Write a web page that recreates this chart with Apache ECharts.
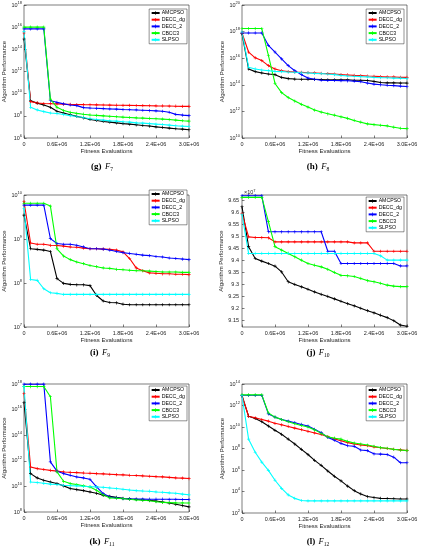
<!DOCTYPE html>
<html><head><meta charset="utf-8">
<script src="https://cdn.jsdelivr.net/npm/echarts@6/dist/echarts.min.js"></script>
<style>html,body{margin:0;padding:0;background:#fff}#c{width:421px;height:550px}</style>
</head><body><div id="c"></div>
<script>
// ---------------- DATA ----------------
const xEvals = [0,120000,240000,360000,480000,600000,720000,840000,960000,1080000,1200000,1320000,1440000,1560000,1680000,1800000,1920000,2040000,2160000,2280000,2400000,2520000,2640000,2760000,2880000,3000000];
const xTickLabels = ['0','0.6E+06','1.2E+06','1.8E+06','2.4E+06','3.0E+06'];
const seriesNames = ['AMCPSO','DECC_dg','DECC_2','CBCC3','SLPSO'];

// (g) F7
const g_AMCPSO = [8.5e14,2.3e9,1.4e9,9.5e8,5.9e8,2.6e8,1.8e8,1.26e8,8.9e7,6.6e7,4.7e7,3.8e7,3.1e7,2.7e7,2.3e7,2.0e7,1.8e7,1.55e7,1.35e7,1.2e7,1.0e7,8.9e6,7.8e6,6.8e6,6.3e6,5.5e6];
const g_DECC_dg = [3.0e15,1.9e9,1.45e9,1.3e9,1.25e9,1.2e9,1.12e9,1.07e9,1.05e9,1.02e9,1.0e9,9.8e8,9.5e8,9.3e8,9.1e8,8.9e8,8.7e8,8.5e8,8.3e8,8.1e8,7.9e8,7.8e8,7.6e8,7.4e8,7.2e8,7.1e8];
const g_DECC_2 = [7.0e15,7.0e15,7.0e15,7.0e15,2.3e9,1.65e9,1.2e9,9.5e8,8.3e8,5.5e8,5.1e8,4.8e8,4.5e8,4.2e8,4.0e8,3.7e8,3.55e8,3.4e8,3.2e8,3.0e8,2.8e8,2.6e8,2.1e8,1.35e8,1.17e8,1.05e8];
const g_CBCC3 = [1.0e16,1.0e16,1.0e16,1.0e16,3.2e9,5.9e8,3.0e8,2.1e8,1.66e8,1.4e8,1.2e8,1.1e8,1.0e8,9.1e7,8.3e7,7.6e7,7.1e7,6.6e7,6.2e7,5.8e7,5.4e7,5.0e7,4.6e7,4.1e7,3.6e7,3.3e7];
const g_SLPSO = [4.2e15,5.9e8,3.4e8,2.4e8,1.8e8,1.6e8,1.3e8,1.05e8,8.7e7,7.1e7,5.4e7,4.7e7,4.1e7,3.5e7,3.3e7,2.9e7,2.7e7,2.3e7,2.2e7,2.0e7,1.8e7,1.66e7,1.45e7,1.26e7,1.17e7,1.1e7];

// (h) F8
const h_AMCPSO = [7.1e17,1.55e15,9.8e14,7.8e14,6.5e14,5.8e14,3.6e14,2.9e14,2.7e14,2.6e14,2.6e14,2.55e14,2.5e14,2.4e14,2.4e14,2.4e14,2.4e14,2.2e14,2.2e14,2.1e14,1.8e14,1.5e14,1.4e14,1.4e14,1.35e14,1.35e14];
const h_DECC_dg = [7.9e17,2.9e16,1.07e16,6.6e15,2.75e15,1.55e15,1.15e15,9.8e14,9.1e14,8.7e14,8.1e14,7.8e14,7.2e14,6.9e14,6.5e14,5.8e14,5.5e14,5.1e14,4.9e14,4.6e14,4.4e14,4.1e14,3.9e14,3.9e14,3.6e14,3.6e14];
const h_DECC_2 = [7.9e17,7.9e17,7.9e17,7.9e17,9.1e16,2.9e16,8.9e15,2.75e15,1.15e15,5.8e14,3.2e14,2.6e14,2.2e14,2.1e14,2.1e14,2.05e14,2.0e14,1.9e14,1.7e14,1.35e14,1.12e14,1.0e14,9.3e13,8.7e13,7.9e13,7.4e13];
const h_CBCC3 = [1.7e18,1.7e18,1.7e18,1.7e18,1.6e16,1.26e14,2.6e13,1.1e13,6.0e12,3.4e12,2.1e12,1.26e12,8.9e11,6.6e11,5.2e11,3.9e11,3.0e11,2.1e11,1.55e11,1.15e11,1.02e11,9.1e10,8.1e10,6.5e10,5.4e10,5.1e10];
const h_SLPSO = [9.3e17,2.1e15,1.55e15,1.3e15,1.15e15,1.02e15,9.8e14,9.1e14,8.7e14,8.1e14,7.8e14,7.2e14,6.9e14,6.5e14,5.8e14,5.1e14,4.6e14,4.4e14,4.1e14,3.9e14,3.6e14,3.4e14,3.4e14,3.2e14,3.2e14,3.0e14];

// (i) F9
const i_AMCPSO = [3.5e9,6.0e8,5.8e8,5.6e8,5.2e8,1.26e8,9.8e7,9.3e7,9.1e7,9.1e7,8.7e7,5.2e7,3.9e7,3.6e7,3.55e7,3.3e7,3.2e7,3.2e7,3.2e7,3.2e7,3.2e7,3.2e7,3.2e7,3.2e7,3.2e7,3.2e7];
const i_DECC_dg = [7.1e9,8.1e8,7.6e8,7.6e8,7.2e8,7.1e8,6.9e8,6.6e8,6.5e8,6.2e8,6.0e8,6.0e8,5.9e8,5.8e8,5.6e8,5.1e8,3.6e8,2.2e8,1.9e8,1.7e8,1.66e8,1.62e8,1.62e8,1.58e8,1.58e8,1.55e8];
const i_DECC_2 = [5.9e9,5.9e9,5.9e9,5.9e9,1.02e9,7.9e8,7.6e8,7.6e8,7.2e8,6.6e8,6.0e8,6.0e8,5.9e8,5.6e8,5.2e8,4.9e8,4.7e8,4.5e8,4.3e8,4.2e8,4.0e8,3.9e8,3.7e8,3.6e8,3.5e8,3.4e8];
const i_CBCC3 = [6.5e9,6.5e9,6.5e9,6.5e9,5.6e9,6.0e8,4.1e8,3.4e8,3.0e8,2.75e8,2.5e8,2.35e8,2.2e8,2.15e8,2.05e8,2.0e8,1.95e8,1.9e8,1.9e8,1.86e8,1.82e8,1.78e8,1.78e8,1.78e8,1.74e8,1.74e8];
const i_SLPSO = [5.0e9,1.2e8,1.15e8,7.4e7,6.0e7,5.8e7,5.5e7,5.5e7,5.5e7,5.5e7,5.5e7,5.5e7,5.5e7,5.5e7,5.5e7,5.5e7,5.5e7,5.5e7,5.5e7,5.5e7,5.5e7,5.5e7,5.5e7,5.5e7,5.5e7,5.5e7];

// (j) F10
const j_AMCPSO = [9.622e7,9.456e7,9.407e7,9.396e7,9.386e7,9.375e7,9.351e7,9.31e7,9.299e7,9.289e7,9.279e7,9.268e7,9.258e7,9.249e7,9.239e7,9.229e7,9.219e7,9.21e7,9.2e7,9.19e7,9.181e7,9.171e7,9.161e7,9.148e7,9.13e7,9.125e7];
const j_DECC_dg = [9.594e7,9.497e7,9.494e7,9.494e7,9.493e7,9.476e7,9.476e7,9.476e7,9.476e7,9.476e7,9.476e7,9.476e7,9.476e7,9.476e7,9.476e7,9.476e7,9.476e7,9.472e7,9.472e7,9.472e7,9.437e7,9.437e7,9.437e7,9.437e7,9.437e7,9.437e7];
const j_DECC_2 = [9.668e7,9.668e7,9.668e7,9.668e7,9.518e7,9.518e7,9.518e7,9.518e7,9.518e7,9.518e7,9.518e7,9.518e7,9.518e7,9.437e7,9.437e7,9.386e7,9.386e7,9.386e7,9.386e7,9.386e7,9.386e7,9.386e7,9.386e7,9.386e7,9.376e7,9.376e7];
const j_CBCC3 = [9.661e7,9.661e7,9.661e7,9.661e7,9.56e7,9.456e7,9.442e7,9.428e7,9.414e7,9.4e7,9.386e7,9.379e7,9.372e7,9.362e7,9.349e7,9.337e7,9.335e7,9.332e7,9.324e7,9.315e7,9.31e7,9.304e7,9.296e7,9.292e7,9.29e7,9.29e7];
const j_SLPSO = [9.59e7,9.428e7,9.428e7,9.428e7,9.428e7,9.428e7,9.428e7,9.428e7,9.428e7,9.428e7,9.428e7,9.428e7,9.428e7,9.428e7,9.428e7,9.428e7,9.428e7,9.428e7,9.428e7,9.428e7,9.428e7,9.418e7,9.4e7,9.4e7,9.4e7,9.4e7];
const jTickValues = [9.15e7,9.2e7,9.25e7,9.3e7,9.35e7,9.4e7,9.45e7,9.5e7,9.55e7,9.6e7,9.65e7];
const jTickLabels = ['9.15','9.2','9.25','9.3','9.35','9.4','9.45','9.5','9.55','9.6','9.65'];

// (k) F11
const k_AMCPSO = [3.6e16,1.0e11,4.6e10,3.0e10,2.2e10,1.66e10,1.1e10,6.8e9,5.6e9,4.7e9,3.7e9,2.9e9,2.0e9,1.7e9,1.4e9,1.17e9,1.05e9,9.8e8,8.7e8,8.1e8,7.2e8,6.0e8,5.0e8,4.0e8,3.2e8,2.5e8];
const k_DECC_dg = [1.9e17,3.3e11,2.45e11,2.1e11,1.8e11,1.55e11,1.35e11,1.26e11,1.2e11,1.12e11,1.07e11,1.0e11,9.5e10,8.9e10,8.3e10,7.9e10,7.4e10,7.1e10,6.6e10,6.2e10,5.8e10,5.5e10,5.1e10,4.6e10,4.4e10,4.1e10];
const k_DECC_2 = [9.8e17,9.8e17,9.8e17,9.8e17,8.3e11,1.55e11,1.0e11,7.4e10,5.5e10,4.6e10,3.6e10,9.1e9,2.75e9,1.5e9,1.26e9,1.1e9,1.05e9,1.02e9,1.02e9,1.0e9,1.0e9,1.0e9,9.8e8,9.8e8,9.5e8,9.5e8];
const k_CBCC3 = [6.3e17,6.3e17,6.3e17,6.3e17,1.0e17,1.35e11,2.5e10,1.66e10,1.4e10,1.1e10,9.1e9,5.0e9,2.2e9,1.26e9,1.2e9,1.1e9,1.0e9,8.9e8,8.3e8,7.6e8,6.3e8,5.6e8,5.4e8,5.2e8,5.1e8,5.0e8];
const k_SLPSO = [6.3e17,2.2e10,2.0e10,1.74e10,1.5e10,1.4e10,1.23e10,1.15e10,1.1e10,1.02e10,9.5e9,9.1e9,8.5e9,7.6e9,6.8e9,6.0e9,5.2e9,4.7e9,4.4e9,4.2e9,3.7e9,3.5e9,3.1e9,2.9e9,2.5e9,2.2e9];

// (l) F12
const l_AMCPSO = [8.0e12,1.0e11,6.2e10,3.1e10,1.23e10,4.9e9,2.1e9,7.4e8,2.6e8,8.3e7,2.75e7,7.8e6,2.7e6,8.1e5,2.6e5,9.8e4,3.2e4,1.2e4,5.9e3,3.4e3,2.75e3,2.3e3,2.2e3,2.1e3,2.0e3,2.0e3];
const l_DECC_dg = [8.0e12,1.0e11,7.1e10,5.0e10,3.5e10,2.2e10,1.6e10,1.12e10,7.9e9,5.6e9,4.0e9,2.8e9,2.0e9,1.26e9,7.9e8,5.2e8,3.5e8,2.6e8,2.1e8,1.8e8,1.4e8,1.17e8,1.0e8,8.5e7,7.4e7,6.6e7];
const l_DECC_2 = [8.9e12,8.9e12,8.9e12,8.9e12,1.66e11,8.3e10,5.0e10,3.5e10,2.5e10,1.74e10,1.23e10,6.2e9,3.0e9,1.05e9,6.0e8,3.0e8,1.8e8,1.6e8,7.2e7,6.3e7,3.2e7,3.0e7,2.75e7,1.55e7,4.7e6,4.7e6];
const l_CBCC3 = [9.8e12,9.8e12,9.8e12,9.8e12,2.0e11,8.3e10,5.0e10,3.1e10,2.0e10,1.4e10,1.0e10,5.4e9,2.6e9,1.2e9,9.1e8,7.4e8,4.6e8,3.2e8,2.6e8,2.1e8,1.6e8,1.2e8,1.05e8,8.3e7,7.2e7,6.3e7];
const l_SLPSO = [8.0e12,7.4e8,4.5e7,5.4e6,9.3e5,1.12e5,1.95e4,4.8e3,2.3e3,1.45e3,1.35e3,1.35e3,1.35e3,1.35e3,1.35e3,1.35e3,1.35e3,1.35e3,1.35e3,1.35e3,1.35e3,1.35e3,1.35e3,1.35e3,1.35e3,1.35e3];

// ---------------- LAYOUT ----------------
const colors = ['#000000','#ff0000','#0000ff','#00ff00','#00ffff'];
const panels = [
  {cap:'(g)', sub:'7',  left:24,  top:5,   h:133, eMin:6,  eMax:18, eStep:2, capX:102, capY:167, legTop:9,   legRight:234, data:[g_AMCPSO,g_DECC_dg,g_DECC_2,g_CBCC3,g_SLPSO]},
  {cap:'(h)', sub:'8',  left:242, top:5,   h:133, eMin:10, eMax:20, eStep:2, capX:318, capY:167, legTop:9,   legRight:17,  data:[h_AMCPSO,h_DECC_dg,h_DECC_2,h_CBCC3,h_SLPSO]},
  {cap:'(i)', sub:'9',  left:24,  top:195, h:132, eMin:7,  eMax:10, eStep:1, capX:100, capY:353, legTop:190, legRight:234, data:[i_AMCPSO,i_DECC_dg,i_DECC_2,i_CBCC3,i_SLPSO]},
  {cap:'(j)', sub:'10', left:242, top:195, h:132, linear:true,                capX:318, capY:353, legTop:197, legRight:17,  data:[j_AMCPSO,j_DECC_dg,j_DECC_2,j_CBCC3,j_SLPSO]},
  {cap:'(k)', sub:'11', left:24,  top:384, h:128, eMin:8,  eMax:18, eStep:2, capX:102, capY:542, legTop:386, legRight:234, data:[k_AMCPSO,k_DECC_dg,k_DECC_2,k_CBCC3,k_SLPSO]},
  {cap:'(l)', sub:'12', left:242, top:384, h:129, eMin:2,  eMax:14, eStep:2, capX:318, capY:542, legTop:386, legRight:17,  data:[l_AMCPSO,l_DECC_dg,l_DECC_2,l_CBCC3,l_SLPSO]}
];
const PW = 165;
const txt = '#262626';
const FONT = 'Liberation Sans';
const plus = 'path://M4,0H6V4H10V6H6V10H4V6H0V4H4Z';

const grids = [], xAxes = [], yAxes = [], series = [], legends = [], graphics = [];
const tickStyle = {inside:true, length:2.5, lineStyle:{color:txt, width:0.6}};
const yName = {name:'Algorithm Performance', nameLocation:'middle', nameGap:15,
  nameTextStyle:{fontSize:6, color:txt, fontFamily:FONT}};

panels.forEach((p, k) => {
  grids.push({left:p.left, top:p.top, width:PW, height:p.h, show:true, borderColor:txt, borderWidth:0.6, backgroundColor:'#fff'});
  xAxes.push({gridIndex:k, type:'value', min:0, max:3e6, interval:6e5, position:'bottom',
    axisLine:{show:false}, axisTick:tickStyle, splitLine:{show:false},
    axisLabel:{fontSize:5.5, color:txt, margin:3, fontFamily:FONT, formatter:v => xTickLabels[Math.round(v/6e5)]},
    name:'Fitness Evaluations', nameLocation:'middle', nameGap:10,
    nameTextStyle:{fontSize:6, color:txt, fontFamily:FONT}});
  let yMain;
  if (p.linear) {
    yMain = yAxes.length;
    yAxes.push(Object.assign({gridIndex:k, type:'value', min:9.122e7, max:9.671e7, position:'left',
      axisLine:{show:false}, splitLine:{show:false},
      axisTick:Object.assign({customValues:jTickValues}, tickStyle),
      axisLabel:{customValues:jTickValues, fontSize:5.5, color:txt, margin:3, fontFamily:FONT,
        formatter:v => { const idx = jTickValues.findIndex(t => Math.abs(t - v) < 1e3); return idx >= 0 ? jTickLabels[idx] : ''; }}
    }, yName));
    graphics.push({type:'text', x:p.left + 2, y:p.top - 6, style:{text:'×10{s|7}', fill:txt, font:'5.5px ' + FONT,
      rich:{s:{fontSize:4, verticalAlign:'top', fill:txt, fontFamily:FONT}}}});
  } else {
    yMain = yAxes.length;
    yAxes.push({gridIndex:k, type:'log', logBase:10, min:Math.pow(10,p.eMin), max:Math.pow(10,p.eMax), show:false, position:'left'});
    yAxes.push(Object.assign({gridIndex:k, type:'value', min:p.eMin, max:p.eMax, interval:p.eStep, position:'left', offset:0,
      axisLine:{show:false}, splitLine:{show:false}, axisTick:tickStyle,
      axisLabel:{fontSize:5.5, color:txt, margin:2, fontFamily:FONT, lineHeight:9,
        formatter:v => '10{s|' + v + '}',
        rich:{s:{fontSize:4, verticalAlign:'top', color:txt, fontFamily:FONT, lineHeight:5}}}
    }, yName));
  }
  seriesNames.forEach((nm, s) => {
    series.push({type:'line', name:nm, xAxisIndex:k, yAxisIndex:yMain,
      data:xEvals.map((x, i) => [x, p.data[s][i]]),
      symbol:plus, symbolSize:3.2, showSymbol:true,
      lineStyle:{width:1.1, color:colors[s]}, itemStyle:{color:colors[s]},
      animation:false, emphasis:{disabled:true}, clip:true});
  });
  legends.push({data:seriesNames, orient:'vertical', right:p.legRight, top:p.legTop,
    itemWidth:8, itemHeight:4.5, itemGap:1.7, padding:[1.5,2,1.5,1.5],
    backgroundColor:'#fff', borderColor:txt, borderWidth:0.5, selectedMode:false,
    textStyle:{fontSize:5.2, color:'#000', fontFamily:FONT, padding:[0,0,0,-3]}});
  graphics.push({type:'text', x:p.capX, y:p.capY, style:{
    text:'{b|' + p.cap + '} {i|F}{s|' + p.sub + '}', textAlign:'center', textVerticalAlign:'middle',
    rich:{
      b:{fontFamily:'Liberation Serif', fontWeight:'bold', fontSize:9, fill:'#000', lineHeight:12},
      i:{fontFamily:'Liberation Serif', fontStyle:'italic', fontSize:8.5, fill:'#000', lineHeight:12},
      s:{fontFamily:'Liberation Serif', fontSize:5.5, fill:'#000', verticalAlign:'bottom', lineHeight:8}
    }}});
});

const chart = echarts.init(document.getElementById('c'), null, {renderer:'canvas'});
chart.setOption({
  animation:false, backgroundColor:'#fff',
  grid:grids, xAxis:xAxes, yAxis:yAxes, series:series, legend:legends, graphic:graphics
});
</script></body></html>
